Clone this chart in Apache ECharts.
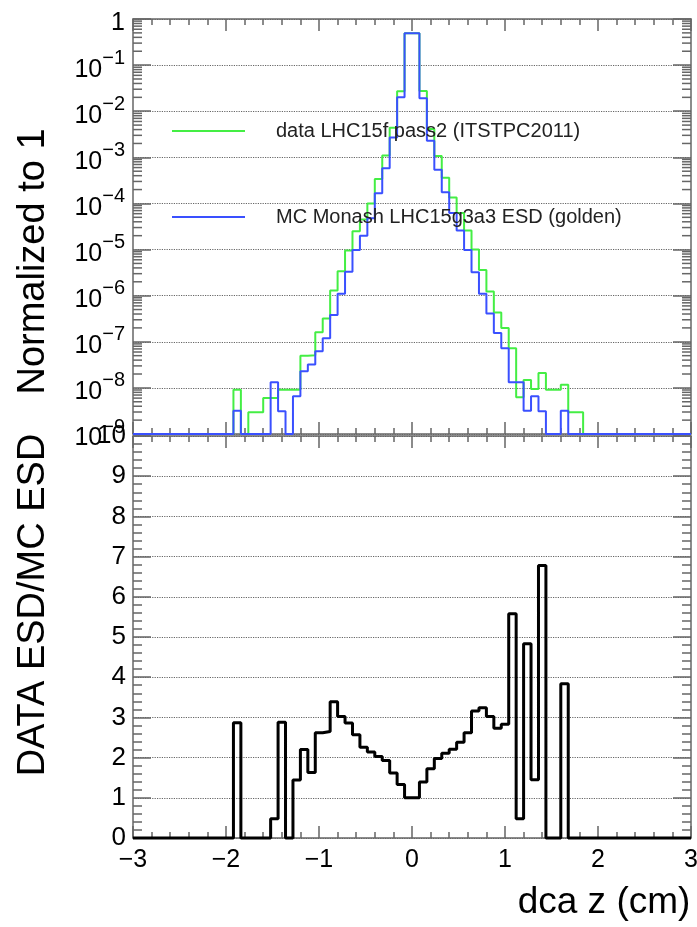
<!DOCTYPE html>
<html>
<head>
<meta charset="utf-8">
<script src="https://cdn.jsdelivr.net/npm/echarts@6/dist/echarts.min.js"></script>
<style>
  html, body { margin: 0; padding: 0; background: #fff; }
  #chart { width: 697px; height: 927px; }
</style>
</head>
<body>
<div id="chart"></div>
<script>
// lower edge of each dca z bin (cm), bins are 0.08 wide
const binLow = [
  -1.92, -1.84, -1.76, -1.68, -1.60, -1.52, -1.44, -1.36, -1.28, -1.20, -1.12, -1.04,
  -0.96, -0.88, -0.80, -0.72, -0.64, -0.56, -0.48, -0.40, -0.32, -0.24, -0.16, -0.08,
  0.00, 0.08, 0.16, 0.24, 0.32, 0.40, 0.48, 0.56, 0.64, 0.72, 0.80, 0.88,
  0.96, 1.04, 1.12, 1.20, 1.28, 1.36, 1.44, 1.52, 1.60, 1.68, 1.76, 1.84,
]
const binWidth = 0.08

// data LHC15f pass2, normalized to 1
const dataFrac = [
  9.1e-9, 0, 2.95e-9, 2.95e-9, 6.0e-9, 6.0e-9, 9.1e-9, 9.1e-9, 9.1e-9, 5.0e-8, 5.1e-8, 1.6e-7,
  3.2e-7, 1.3e-6, 3.4e-6, 9.5e-6, 2.5e-5, 4.5e-5, 1.0e-4, 3.4e-4, 1.1e-3, 4.4e-3, 0.027, 0.49,
  0.49, 0.0275, 4.1e-3, 1.07e-3, 3.6e-4, 1.35e-4, 6.2e-5, 2.6e-5, 1.0e-5, 3.6e-6, 1.23e-6, 4.3e-7,
  2.0e-7, 7.2e-8, 6.3e-9, 1.48e-8, 9.5e-9, 2.1e-8, 9.1e-9, 9.1e-9, 1.17e-8, 2.95e-9, 2.95e-9, 0,
]

// MC Monash LHC15g3a3 ESD, normalized to 1
const mcFrac = [
  3.2e-9, 0, 0, 0, 0, 1.32e-8, 3.1e-9, 0, 6.6e-9, 2.3e-8, 3.2e-8, 6.2e-8,
  1.2e-7, 3.8e-7, 1.1e-6, 3.3e-6, 9.8e-6, 2.0e-5, 4.8e-5, 1.66e-4, 5.8e-4, 2.7e-3, 0.020, 0.49,
  0.49, 0.019, 2.3e-3, 5.4e-4, 1.74e-4, 6.2e-5, 2.6e-5, 9.8e-6, 3.2e-6, 1.1e-6, 4.1e-7, 1.55e-7,
  7.2e-8, 1.32e-8, 1.32e-8, 3.2e-9, 6.6e-9, 3.1e-9, 0, 0, 3.2e-9, 0, 0, 0,
]

// DATA ESD / MC ESD
const ratio = [
  2.87, 0, 0, 0, 0, 0.48, 2.88, 0, 1.44, 2.20, 1.63, 2.62,
  2.65, 3.39, 3.02, 2.86, 2.57, 2.26, 2.14, 2.03, 1.93, 1.62, 1.33, 1.00,
  1.00, 1.39, 1.72, 1.98, 2.11, 2.21, 2.38, 2.62, 3.16, 3.24, 3.02, 2.73,
  2.83, 5.58, 0.48, 4.83, 1.45, 6.78, 0, 0, 3.84, 0, 0, 0,
]

const xTickValues = [-3, -2, -1, 0, 1, 2, 3]
const xTickLabels = ['−3', '−2', '−1', '0', '1', '2', '3']
const ratioTickLabels = ['0', '1', '2', '3', '4', '5', '6', '7', '8', '9', '10']

const frameColor = '#666'
const font = 'Liberation Sans'
const logMin = 1e-9

// histogram as a step line, empty bins sit on the floor of the axis
const stepData = (vals, floor) => {
  const pts = [[-3, floor]]
  vals.forEach((v, i) => pts.push([binLow[i], v > 0 ? v : floor]))
  pts.push([binLow[binLow.length - 1] + binWidth, floor])
  pts.push([3, floor])
  return pts
}

// log minor ticks at 2..9 x 10^n
const logMinor = []
for (let n = -9; n < 0; n++) {
  for (let k = 2; k <= 9; k++) logMinor.push(k * Math.pow(10, n))
}

const xAxisBase = (gridIndex, position, showLabels) => ({
  type: 'value',
  gridIndex,
  position,
  min: -3,
  max: 3,
  interval: 1,
  axisLine: { show: true, onZero: false, lineStyle: { color: frameColor, width: 1.5 } },
  axisTick: { show: true, inside: true, length: 12, lineStyle: { color: frameColor, width: 1.5 } },
  minorTick: { show: true, splitNumber: 5, length: 6, lineStyle: { color: frameColor, width: 1.5 } },
  splitLine: { show: false },
  axisLabel: {
    show: showLabels,
    margin: 10,
    fontFamily: font,
    fontSize: 25,
    color: '#000',
    formatter: (v) => xTickLabels[xTickValues.indexOf(Math.round(v))],
  },
})

const logAxis = (position, showLabels) => ({
  type: 'log',
  logBase: 10,
  gridIndex: 0,
  position,
  min: logMin,
  max: 1,
  splitNumber: 9,
  axisLine: { show: true, onZero: false, lineStyle: { color: frameColor, width: 1.5 } },
  axisTick: { show: true, inside: true, length: 18, lineStyle: { color: frameColor, width: 1.5 } },
  splitLine: { show: showLabels, lineStyle: { type: 'dotted', color: '#666', width: 1.2 } },
  axisLabel: {
    show: showLabels,
    margin: 8,
    formatter: (v) => {
      const e = Math.round(Math.log10(v))
      return e === 0 ? '{b|1}' : '{b|10}{s|−' + -e + '}'
    },
    rich: {
      b: { fontFamily: font, fontSize: 25, color: '#000', lineHeight: 34, verticalAlign: 'bottom' },
      s: { fontFamily: font, fontSize: 20, color: '#000', lineHeight: 20, verticalAlign: 'top' },
    },
  },
})

const ratioAxis = (position, showLabels) => ({
  type: 'value',
  gridIndex: 1,
  position,
  min: 0,
  max: 10,
  interval: 1,
  axisLine: { show: true, onZero: false, lineStyle: { color: frameColor, width: 1.5 } },
  axisTick: { show: true, inside: true, length: 18, lineStyle: { color: frameColor, width: 1.5 } },
  minorTick: { show: true, splitNumber: 5, length: 9, lineStyle: { color: frameColor, width: 1.5 } },
  splitLine: { show: showLabels, lineStyle: { type: 'dotted', color: '#666', width: 1.2 } },
  axisLabel: {
    show: showLabels,
    margin: 7,
    fontFamily: font,
    fontSize: 26,
    color: '#000',
    formatter: (v) => ratioTickLabels[Math.round(v)],
  },
})

const chart = echarts.init(document.getElementById('chart'))

const topLeft = logAxis('left', true)
topLeft.name = 'Normalized to 1'
topLeft.nameLocation = 'middle'
topLeft.nameGap = 80
topLeft.nameTextStyle = { fontFamily: font, fontSize: 38, color: '#000', padding: [0, 70, 0, 0] }

const bottomLeft = ratioAxis('left', true)
bottomLeft.name = 'DATA ESD/MC ESD'
bottomLeft.nameLocation = 'middle'
bottomLeft.nameGap = 80
bottomLeft.nameTextStyle = { fontFamily: font, fontSize: 38, color: '#000', padding: [0, 0, 0, 64] }

const bottomX = xAxisBase(1, 'bottom', true)
bottomX.name = 'dca z (cm)'
bottomX.nameLocation = 'middle'
bottomX.nameGap = 46
bottomX.nameTextStyle = { fontFamily: font, fontSize: 37, color: '#000', padding: [0, 0, 0, 384] }

const option = {
  backgroundColor: '#fff',
  animation: false,
  grid: [
    { left: 133, right: 6, top: 19, height: 415, outerBoundsMode: 'none' },
    { left: 133, right: 6, top: 436, height: 402, outerBoundsMode: 'none' },
  ],
  legend: {
    data: [
      { name: 'data LHC15f pass2 (ITSTPC2011)', icon: 'rect' },
      { name: 'MC Monash LHC15g3a3 ESD (golden)', icon: 'rect' },
    ],
    orient: 'vertical',
    left: 172,
    top: 121,
    padding: 0,
    itemWidth: 73,
    itemHeight: 2,
    itemGap: 66,
    textStyle: { fontFamily: font, fontSize: 20, color: '#222', lineHeight: 20, padding: [0, 0, 0, 26] },
  },
  xAxis: [
    xAxisBase(0, 'bottom', false),
    xAxisBase(0, 'top', false),
    bottomX,
    xAxisBase(1, 'top', false),
  ],
  yAxis: [topLeft, logAxis('right', false), bottomLeft, ratioAxis('right', false)],
  series: [
    {
      type: 'custom',
      silent: true,
      xAxisIndex: 0,
      yAxisIndex: 0,
      clip: false,
      data: logMinor.map((v) => [0, v]),
      renderItem: (params, api) => {
        const y = api.coord([0, api.value(1)])[1]
        const cs = params.coordSys
        const st = { stroke: frameColor, lineWidth: 1.5 }
        return {
          type: 'group',
          children: [
            { type: 'line', shape: { x1: cs.x, y1: y, x2: cs.x + 9, y2: y }, style: st },
            { type: 'line', shape: { x1: cs.x + cs.width - 9, y1: y, x2: cs.x + cs.width, y2: y }, style: st },
          ],
        }
      },
    },
    {
      name: 'data LHC15f pass2 (ITSTPC2011)',
      type: 'line',
      step: 'end',
      xAxisIndex: 0,
      yAxisIndex: 0,
      symbol: 'none',
      clip: false,
      color: '#44ee44',
      lineStyle: { color: '#44ee44', width: 2 },
      data: stepData(dataFrac, logMin),
    },
    {
      name: 'MC Monash LHC15g3a3 ESD (golden)',
      type: 'line',
      step: 'end',
      xAxisIndex: 0,
      yAxisIndex: 0,
      symbol: 'none',
      clip: false,
      color: '#3a50ff',
      lineStyle: { color: '#3a50ff', width: 2 },
      data: stepData(mcFrac, logMin),
    },
    {
      name: 'ratio',
      type: 'line',
      step: 'end',
      xAxisIndex: 2,
      yAxisIndex: 2,
      symbol: 'none',
      clip: false,
      color: '#000',
      lineStyle: { color: '#000', width: 3 },
      data: stepData(ratio, 0),
    },
  ],
}

chart.setOption(option)
</script>
</body>
</html>
